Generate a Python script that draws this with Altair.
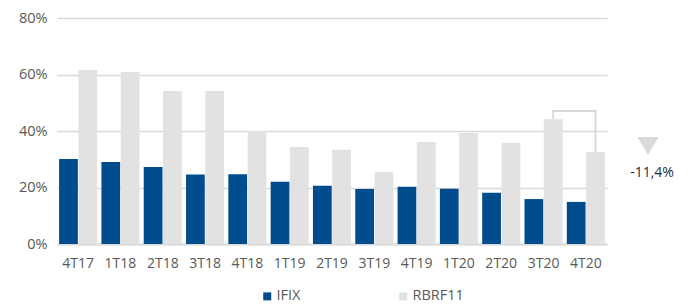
import altair as alt
import pandas as pd

quarters = ["4T17", "1T18", "2T18", "3T18", "4T18", "1T19", "2T19",
            "3T19", "4T19", "1T20", "2T20", "3T20", "4T20"]
ifix = [30.1, 29.0, 27.3, 24.6, 24.7, 22.0, 20.6, 19.5, 20.3, 19.6, 18.1, 15.9, 14.9]
rbrf11 = [61.6, 60.9, 54.2, 54.2, 40.0, 34.3, 33.4, 25.5, 36.1, 39.3, 35.8, 44.2, 32.6]
series = ["IFIX", "RBRF11"]
colors = ["#004C8C", "#E2E2E2"]

bracket_q = ["3T20", "3T20", "4T20", "4T20"]
bracket_y = [44.2, 47.1, 47.1, 32.6]
change_label = "-11,4%"

FONT = "Open Sans"
GRID = "#D9D9D9"
LABEL = "#595959"

rows = []
for q, a, b in zip(quarters, ifix, rbrf11):
    rows.append({"quarter": q, "series": "IFIX", "value": a})
    rows.append({"quarter": q, "series": "RBRF11", "value": b})
df = pd.DataFrame(rows)

bracket_df = pd.DataFrame({
    "quarter": bracket_q,
    "series": ["RBRF11"] * 4,
    "value": bracket_y,
    "order": [0, 1, 2, 3],
})

x_enc = alt.X(
    "quarter:N", sort=quarters,
    scale=alt.Scale(domain=quarters, paddingInner=0.1, paddingOuter=0.05),
    axis=alt.Axis(title=None, labelAngle=0, ticks=False, domain=True,
                  domainColor=GRID, domainWidth=2, labelPadding=12,
                  labelFontSize=14, labelColor=LABEL, labelFont=FONT),
)
xoff_enc = alt.XOffset("series:N", scale=alt.Scale(domain=series, paddingInner=0.03))
y_enc = alt.Y(
    "value:Q",
    scale=alt.Scale(domain=[0, 80]),
    axis=alt.Axis(title=None, values=[0, 20, 40, 60, 80],
                  labelExpr="datum.value + '%'", ticks=False, domain=False,
                  gridColor=GRID, gridWidth=1.5, labelPadding=10,
                  labelFontSize=14.5, labelColor=LABEL, labelFont=FONT),
)

bracket = alt.Chart(bracket_df).mark_line(color=GRID, strokeWidth=2).encode(
    x=x_enc, xOffset=xoff_enc, y=y_enc, order="order:Q"
)

bars = alt.Chart(df).mark_bar().encode(
    x=x_enc,
    xOffset=xoff_enc,
    y=y_enc,
    color=alt.Color(
        "series:N",
        scale=alt.Scale(domain=series, range=colors),
        legend=alt.Legend(title=None, orient="none", direction="horizontal",
                          legendX=203, legendY=271, symbolType="square",
                          symbolSize=64, symbolStrokeWidth=0, labelOffset=2,
                          columnPadding=95, labelFontSize=14.5, labelColor=LABEL,
                          labelFont=FONT),
    ),
)

ann = pd.DataFrame({"label": [change_label]})
tri = alt.Chart(ann).mark_point(shape="triangle-down", filled=True, size=440,
                                color=GRID, opacity=1).encode(
    x=alt.value(591), y=alt.value(128)
)
txt = alt.Chart(ann).mark_text(fontSize=14, font=FONT, color="#1F2A44").encode(
    x=alt.value(595), y=alt.value(155), text="label:N"
)

chart = alt.layer(bracket, bars, tri, txt).properties(
    width=550, height=226,
    autosize=alt.AutoSizeParams(type="none"),
    padding={"left": 49, "top": 10, "right": 73, "bottom": 59},
).configure_view(stroke=None).configure_axisX(grid=False)

chart.save("out.html", embed_options={"renderer": "svg", "actions": False})
